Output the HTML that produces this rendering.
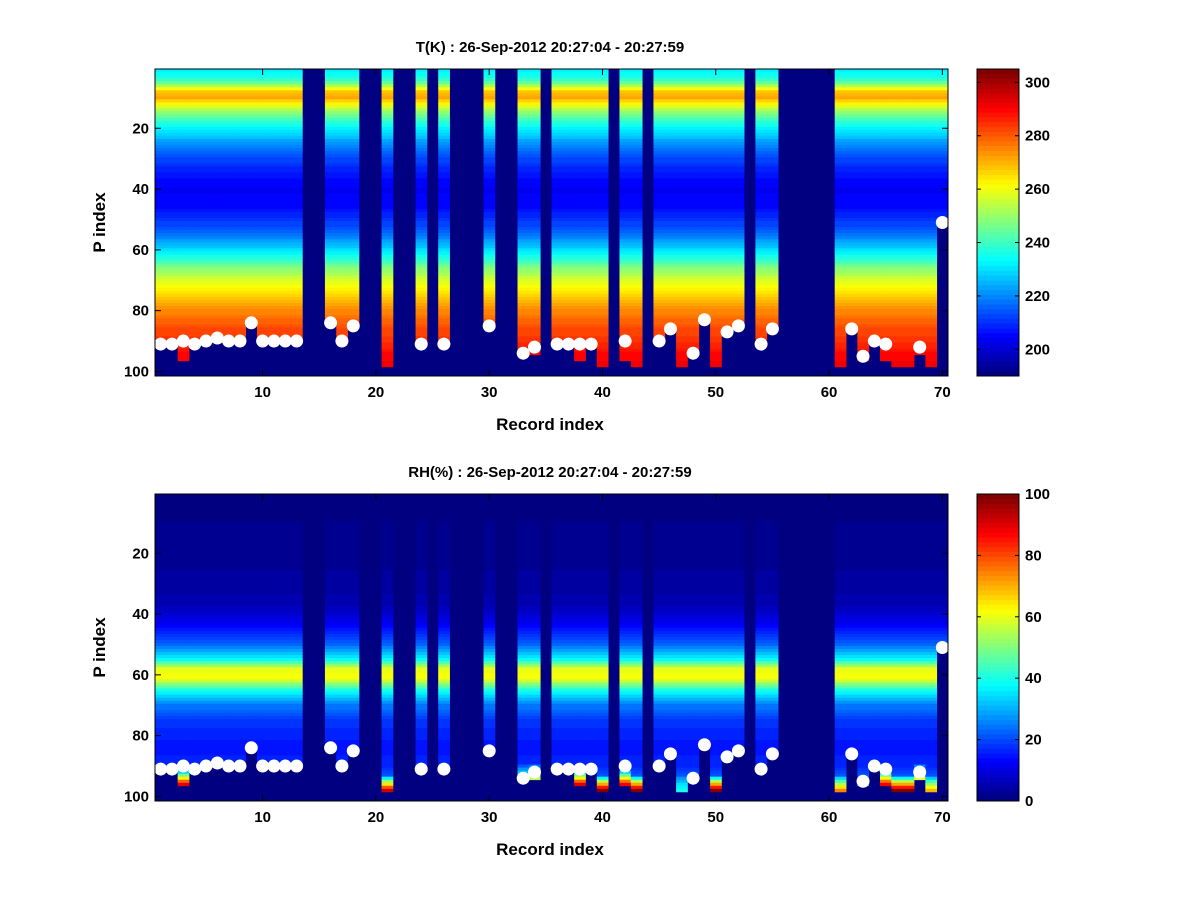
<!DOCTYPE html>
<html><head><meta charset="utf-8"><style>
body{margin:0;background:#fff;width:1200px;height:900px;overflow:hidden}
svg text{font-family:"Liberation Sans",sans-serif;font-weight:bold;fill:#000}
</style></head><body>
<svg id="chart" width="1200" height="900" xmlns="http://www.w3.org/2000/svg"></svg>
<script>
// ---- data ----
const records = Array.from({length:70},(_,i)=>i+1);
const bottomRow = [90,90,96,90,90,90,90,90,82,90,90,90,90,0,0,82,90,84,0,0,98,0,0,90,0,90,0,0,0,84,0,0,94,94,0,90,90,96,90,98,0,96,98,0,89,85,98,93,82,98,86,84,0,89,85,0,0,0,0,0,98,85,96,89,96,98,98,94,98,50];
const dotP = [91,91,90,91,90,89,90,90,84,90,90,90,90,null,null,84,90,85,null,null,null,null,null,91,null,91,null,null,null,85,null,null,94,92,null,91,91,91,91,null,null,90,null,null,90,86,null,94,83,null,87,85,null,91,86,null,null,null,null,null,null,86,95,90,91,null,null,92,null,51];
const pLevels = [1,3,5,8,10,12,15,20,25,30,35,40,45,50,55,58,61,65,70,75,80,85,90,95,100];
const tProfile = [232,235,245,268,272,262,248,232,222,213,207,204,205,210,218,225,232,245,258,266,275,281,285,290,293];
const rhProfile = [0,0,1,1,2,2,2,3,3,4,5,8,15,22,38,60,62,40,25,18,16,15,17,25,30];
const rhSfcRecords = [3,21,33,34,38,40,42,43,47,50,61,65,66,67,68,69];
const rhSfcValues = [90,92,40,55,90,100,88,100,40,100,75,88,100,100,60,70];
const tTicks=[200,220,240,260,280,300], rhTicks=[0,20,40,60,80,100];
const xTicks=[10,20,30,40,50,60,70], yTicks=[20,40,60,80,100];

const NS="http://www.w3.org/2000/svg", svg=document.getElementById('chart');
function mk(tag,attrs,parent){const e=document.createElementNS(NS,tag);for(const k in attrs)e.setAttribute(k,attrs[k]);(parent||svg).appendChild(e);return e;}
function jet(v){v=Math.max(0,Math.min(1,v));v=Math.floor(v*63.999)/63;const c=x=>Math.round(255*Math.max(0,Math.min(1,1.5-Math.abs(x))));return `rgb(${c(4*v-3)},${c(4*v-2)},${c(4*v-1)})`;}
function interp(p,arr){for(let i=0;i<pLevels.length-1;i++){if(p<=pLevels[i+1]){const t=(p-pLevels[i])/(pLevels[i+1]-pLevels[i]);return arr[i]+t*(arr[i+1]-arr[i]);}}return arr[arr.length-1];}

function panel(top,name,title,profile,cmin,cmax,ticks,isRH){
  const L=155,R=948,T=top,B=top+307;
  const xs=r=>L+(r-0.5)*(R-L)/70, ys=p=>T+(p-0.5)*(B-T)/101;
  const g=mk('g',{});
  
  
  const bg=mk('rect',{x:L,y:T,width:R-L,height:B-T,fill:jet(0)},g);
  
  
  const cw=(R-L)/70, ch=(B-T)/101;
  records.forEach((r,i)=>{
    const bot=bottomRow[i]; if(!bot) return;
    const si=rhSfcRecords.indexOf(r);
    for(let p=1;p<=bot;p++){
      let v=interp(p,profile);
      if(isRH && si>=0 && p>bot-5){const t=(p-(bot-5))/5;v=v+(rhSfcValues[si]-v)*t;}
      const c=mk('rect',{x:xs(r-0.5),y:ys(p-0.5),width:cw+0.4,height:ch+0.4,fill:jet((v-cmin)/(cmax-cmin))},g);
      
      
    }
  });
  records.forEach((r,i)=>{ if(dotP[i]==null) return;
    const d=mk('circle',{cx:xs(r),cy:ys(dotP[i]),r:6.5,fill:'#fff'},g);
    
    
  });
  const fr=mk('rect',{x:L,y:T,width:R-L,height:B-T,fill:'none',stroke:'#000','stroke-width':1},g);
  
  
  xTicks.forEach(t=>{const x=xs(t);
    mk('line',{x1:x,y1:B,x2:x,y2:B-6,stroke:'#000'},g);mk('line',{x1:x,y1:T,x2:x,y2:T+6,stroke:'#000'},g);
    const tx=mk('text',{x:x,y:B+21,'font-size':15,'text-anchor':'middle'},g);tx.textContent=t;
    
    
  });
  yTicks.forEach(t=>{const y=ys(t);
    mk('line',{x1:L,y1:y,x2:L+6,y2:y,stroke:'#000'},g);mk('line',{x1:R,y1:y,x2:R-6,y2:y,stroke:'#000'},g);
    const tx=mk('text',{x:L-6,y:y+5,'font-size':15,'text-anchor':'end'},g);tx.textContent=t;
    
    
  });
  const ti=mk('text',{x:550,y:T-17,'font-size':15,'text-anchor':'middle'},g);ti.textContent=title;
  
  
  const xl=mk('text',{x:550,y:B+54,'font-size':17,'text-anchor':'middle'},g);xl.textContent='Record index';
  
  
  const yl=mk('text',{x:0,y:0,'font-size':17,'text-anchor':'middle',transform:`translate(105,${(T+B)/2}) rotate(-90)`},g);yl.textContent='P index';
  
  
  // colorbar
  const CL=977,CR=1019;
  const cb=mk('g',{},g);
  
  
  const n=64,h=(B-T)/n;
  for(let k=0;k<n;k++){mk('rect',{x:CL,y:B-(k+1)*h,width:CR-CL,height:h+0.4,fill:jet((k+0.5)/n)},cb);}
  mk('rect',{x:CL,y:T,width:CR-CL,height:B-T,fill:'none',stroke:'#000'},cb);
  ticks.forEach(t=>{const y=B-(t-cmin)/(cmax-cmin)*(B-T);
    mk('line',{x1:CL,y1:y,x2:CL+4,y2:y,stroke:'#000'},cb);mk('line',{x1:CR,y1:y,x2:CR-4,y2:y,stroke:'#000'},cb);
    const tx=mk('text',{x:CR+6,y:y+5,'font-size':15},cb);tx.textContent=t;
    
    
  });
}
panel(69,'temperature','T(K) : 26-Sep-2012 20:27:04 - 20:27:59',tProfile,190,305,tTicks,false);
panel(494,'humidity','RH(%) : 26-Sep-2012 20:27:04 - 20:27:59',rhProfile,0,100,rhTicks,true);
</script>
</body></html>
